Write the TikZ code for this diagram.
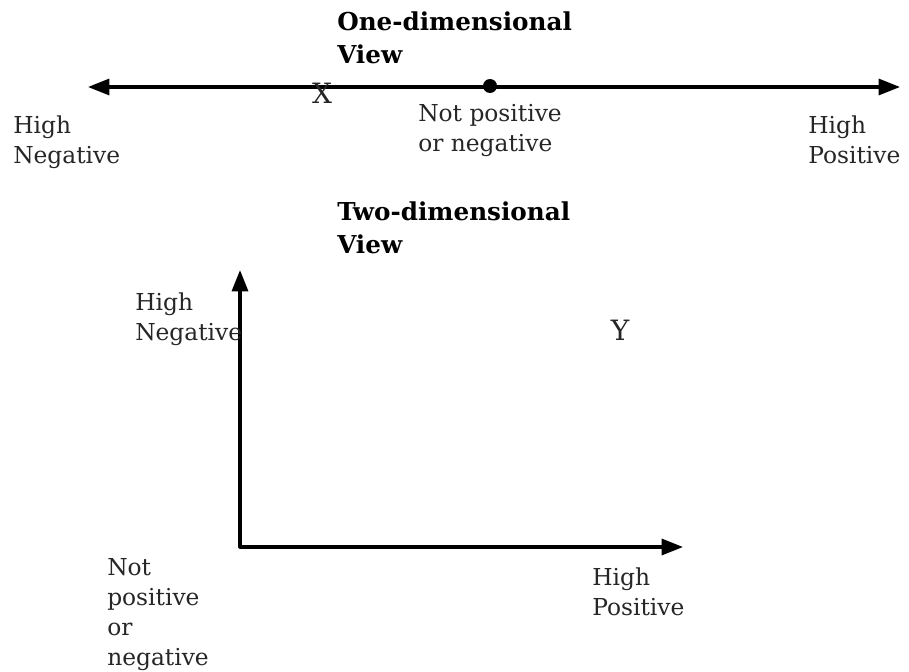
\documentclass[tikz,border=0pt]{standalone}
\usepackage{fontspec}
\setmainfont{DejaVu Serif}
\usetikzlibrary{arrows.meta}
\begin{document}
\begin{tikzpicture}[x=0.75pt,y=-0.75pt,
  lbl/.style={anchor=base west,inner sep=0pt,align=left,font=\fontsize{17.5}{22.5}\selectfont,text=black!85},
  ttl/.style={lbl,font=\fontsize{18.5}{24.5}\selectfont\bfseries,text=black},
  big/.style={lbl,anchor=center,font=\fontsize{21}{24}\selectfont},
  axis/.style={line width=2.4pt,line join=round,{Triangle[length=16pt,width=12pt]}-{Triangle[length=16pt,width=12pt]}}]
\useasboundingbox (0,0) rectangle (909,671);
% one-dimensional view
\node[ttl] (t1) at (337,63) {One-dimensional\\View};
\coordinate (L) at (88,87);
\coordinate (R) at (900,87);
\draw[axis] (L) -- (R);
\node[circle,fill=black,inner sep=0pt,minimum size=10.5pt] (zero) at (490,86) {};
\node[big] (X) at (322,93) {X};
\node[lbl] (hn1) at (13,163) {High\\Negative};
\node[lbl] (np1) at (418,151) {Not positive\\or negative};
\node[lbl] (hp1) at (808,163) {High\\Positive};
% two-dimensional view
\node[ttl] (t2) at (337,253) {Two-dimensional\\View};
\coordinate (O) at (240,547);
\coordinate (Ytip) at (240,270);
\coordinate (Xtip) at (683,547);
\draw[axis] (Ytip) -- (O) -- (Xtip);
\node[lbl] (hn2) at (135,340) {High\\Negative};
\node[big] (Y) at (620,330) {Y};
\node[lbl] (np2) at (107,665) {Not\\positive\\or\\negative};
\node[lbl] (hp2) at (592,615) {High\\Positive};
\end{tikzpicture}
\end{document}
